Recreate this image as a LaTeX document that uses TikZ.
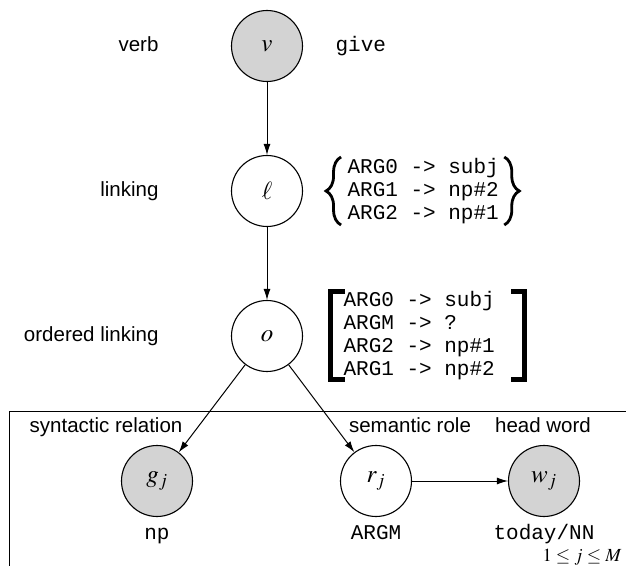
\documentclass[tikz,border=0pt]{standalone}
\usepackage{amsmath}
\usepackage{mathptmx}
\usepackage{fontspec}
\setmainfont{Liberation Sans}
\setmonofont{Liberation Mono}
\usepackage{tikz}
\usetikzlibrary{
        arrows.meta,
        decorations.pathreplacing,
        positioning
    }
\definecolor{obsgray}{RGB}{211,211,211}
\tikzset{>={Latex[length=11pt,width=7pt]},auto,node distance=145pt}
\tikzset{var/.style={circle,draw,line width=1.1pt,minimum size=71pt,inner sep=0pt,font=\fontsize{25}{28}\selectfont}}
\tikzset{observed/.style={var,fill=obsgray}}
\tikzset{lbl/.style={inner sep=0pt,text height=15pt,text depth=4pt,font=\fontsize{20.5}{24}\selectfont}}
\tikzset{tt/.style={inner sep=0pt,align=left,font=\fontsize{21}{23}\selectfont\ttfamily}}
\tikzset{ttval/.style={inner sep=0pt,text height=13pt,text depth=1pt,font=\fontsize{21}{23}\selectfont\ttfamily}}
\tikzset{curly/.style={decorate,decoration={brace,amplitude=15pt},line width=2.8pt}}
\tikzset{bracket/.style={line width=5pt,line cap=butt,miter limit=10}}

\begin{document}
\begin{tikzpicture}[x=1pt,y=1pt,line width=1pt]
    \useasboundingbox (0,0) rectangle (626,565);

    % variables
    \node[observed] (v) at (267,519) {$v$};
    \node[var] (l) [below of=v] {$\ell$};
    \node[var] (o) [below of=l] {$o$};
    \node[observed] (g) [below of=o,xshift=-110pt] {$g_j$};
    \node[var] (r) [below of=o,xshift=109pt] {$r_j$};
    \node[observed] (w) [right of=r,node distance=168pt] {$w_j$};

    % names on the left
    \node[lbl,left=72pt of v] (verb) {verb};
    \node[lbl,left=72pt of l] (linking) {linking};
    \node[lbl,left=72pt of o] (ordlinking) {ordered linking};

    % values
    \node[tt,right=32pt of v] (give) {give};
    \node[tt,right=44pt of l] (links) {ARG0 -> subj\\ARG1 -> np\#2\\ARG2 -> np\#1};
    \node[tt,right=40pt of o] (ordlinks) {ARG0 -> subj\\ARGM -> ?\\ARG2 -> np\#1\\ARG1 -> np\#2};

    \draw[curly] ([xshift=-6pt,yshift=-34pt]links.west) -- ([xshift=-6pt,yshift=34pt]links.west);
    \draw[curly] ([xshift=5pt,yshift=34pt]links.east) -- ([xshift=5pt,yshift=-34pt]links.east);
    \draw[bracket] ([xshift=2pt,yshift=44pt]ordlinks.west) -| ([xshift=-13pt,yshift=-44pt]ordlinks.west) -- ([xshift=2pt,yshift=-44pt]ordlinks.west);
    \draw[bracket] ([xshift=16pt,yshift=44pt]ordlinks.east) -| ([xshift=29pt,yshift=-44pt]ordlinks.east) -- ([xshift=16pt,yshift=-44pt]ordlinks.east);

    % plate
    \draw (9,153) rectangle (700,-50);
    \node[lbl] (synrel) at (106,138) {syntactic relation};
    \node[lbl] (semrole) at (410,138) {semantic role};
    \node[lbl] (headword) at (543,138) {head word};

    \node[ttval,below=9pt of g] (gval) {np};
    \node[ttval,below=9pt of r] (rval) {ARGM};
    \node[ttval,below=9pt of w] (wval) {today/NN};
    \node[anchor=base east,inner sep=0pt,font=\fontsize{18.5}{20}\selectfont] (range) at (622,3.5) {$1\le j\le M$};

    \path[->]
        (v) edge (l)
        (l) edge (o)
        (o) edge (g)
        (o) edge (r)
        (r) edge (w)
        ;
\end{tikzpicture}
\end{document}
